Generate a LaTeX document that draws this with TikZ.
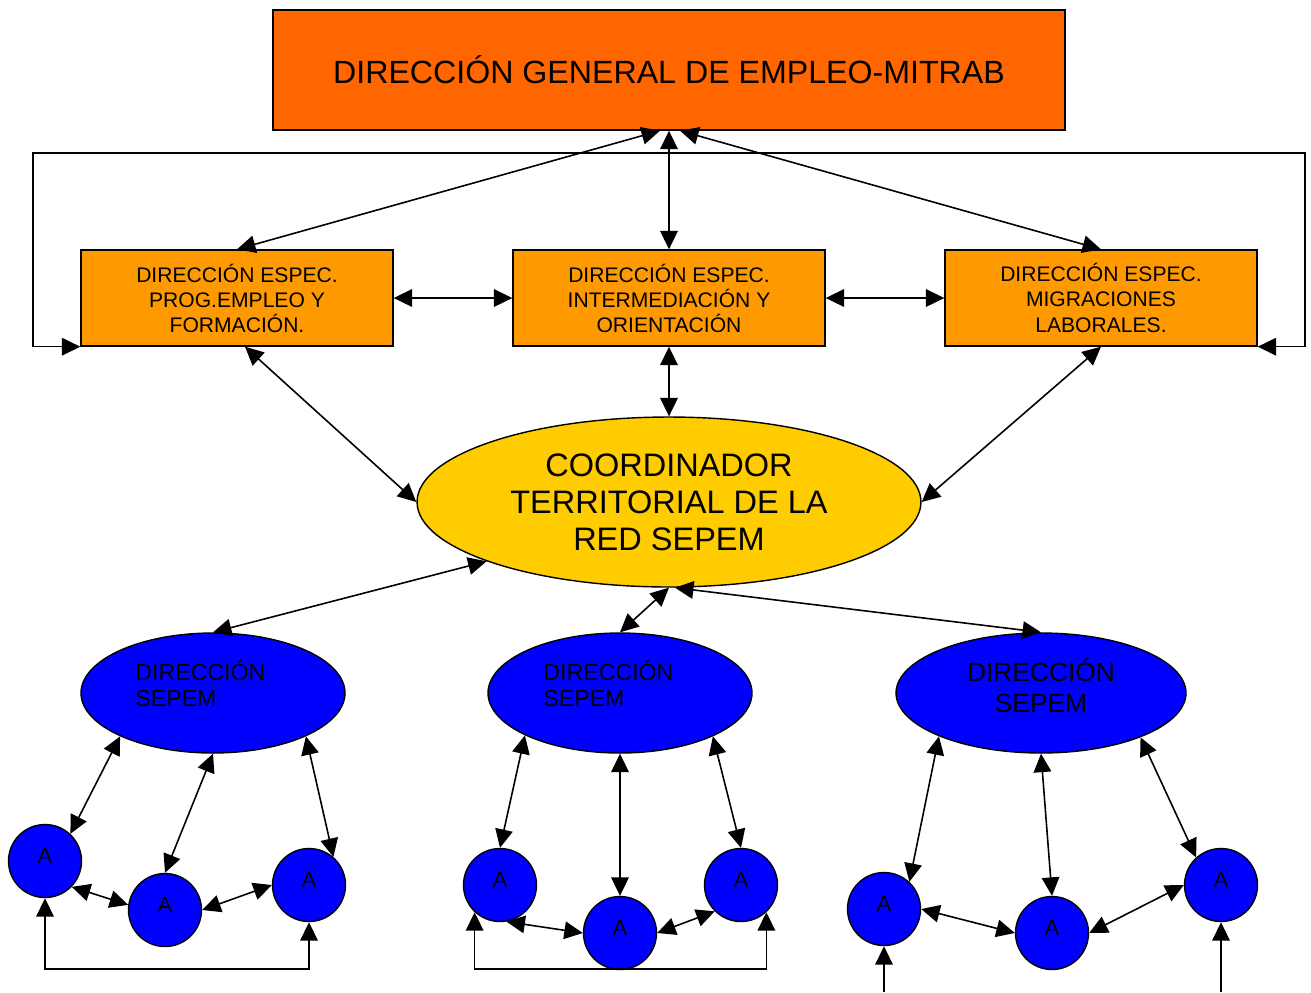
\documentclass[tikz,border=0pt]{standalone}
\usepackage{fontspec}
\setmainfont{Liberation Sans}
\usetikzlibrary{arrows.meta,calc,shapes.geometric}

\definecolor{dirgen}{HTML}{FF6600}
\definecolor{direspec}{HTML}{FF9900}
\definecolor{coordin}{HTML}{FFCC00}
\definecolor{sepemblue}{HTML}{0000FF}

\tikzset{
  gral/.style={draw, line width=0.8pt, fill=dirgen, minimum width=15.84cm, minimum height=2.4cm, inner sep=0pt, font=\fontsize{18.3}{21}\selectfont},
  espec/.style={draw, line width=0.8pt, fill=direspec, minimum width=6.24cm, minimum height=1.92cm, inner sep=0pt, align=center, font=\fontsize{12}{14.2}\selectfont},
  coordell/.style={ellipse, draw, line width=0.8pt, fill=coordin, minimum width=10.08cm, minimum height=3.4cm, inner sep=0pt, align=center, font=\fontsize{18.5}{21}\selectfont},
  sepem/.style={ellipse, draw, line width=0.8pt, fill=sepemblue, minimum height=2.4cm, inner sep=0pt},
  sepemtxt/.style={inner sep=0pt, align=left, font=\fontsize{13.2}{15}\selectfont},
  agente/.style={circle, draw, line width=0.8pt, fill=sepemblue, minimum size=1.46cm, inner sep=0pt, text depth=0.22cm, font=\fontsize{12.5}{14}\selectfont},
  flecha/.style={line width=0.9pt, {Triangle[length=10.5pt,width=10pt]}-{Triangle[length=10.5pt,width=10pt]}},
  punta/.style={line width=0.9pt, -{Triangle[length=10.5pt,width=10pt]}},
}

\begin{document}
\begin{tikzpicture}[x=0.02cm, y=-0.02cm]
		%%%%% START %%%%%
		\useasboundingbox (0,0) rectangle (1311,992);
		
		\node[gral] (gen) at (669,70) {DIRECCIÓN GENERAL DE EMPLEO-MITRAB};
		
		\node[espec] (prog) at (237,298) {DIRECCIÓN ESPEC.\\PROG.EMPLEO Y\\FORMACIÓN.};
		\node[espec] (inter) at (669,298) {DIRECCIÓN ESPEC.\\INTERMEDIACIÓN Y\\ORIENTACIÓN};
		\node[espec] (migr) at (1101,298) {DIRECCIÓN ESPEC.\\MIGRACIONES\\[1pt]LABORALES.};
		
		\node[coordell] (coord) at (669,502) {COORDINADOR\\TERRITORIAL DE LA\\RED SEPEM};
		
		\node[sepem, minimum width=5.28cm] (sepemA) at (213,693) {};
		\node[sepem, minimum width=5.28cm] (sepemB) at (620,693) {};
		\node[sepem, minimum width=5.8cm] (sepemC) at (1041,693) {};
		\node[sepemtxt, anchor=north west] (txtA) at (135,660) {DIRECCIÓN\\SEPEM};
		\node[sepemtxt, anchor=north west] (txtB) at (543,660) {DIRECCIÓN\\SEPEM};
		\node[sepemtxt, anchor=north, align=center, font=\fontsize{15}{18}\selectfont] (txtC) at (1041,658) {DIRECCIÓN\\SEPEM};
		
		\node[agente] (a1) at (45,861) {A};
		\node[agente] (a2) at (165,910) {A};
		\node[agente] (a3) at (309,885) {A};
		\node[agente] (a4) at (500,885) {A};
		\node[agente] (a5) at (620,933) {A};
		\node[agente] (a6) at (741,885) {A};
		\node[agente] (a7) at (884,909) {A};
		\node[agente] (a8) at (1052,933) {A};
		\node[agente] (a9) at (1221,885) {A};
		
		%%%%% upper arrows %%%%%
		\draw[flecha] ($(gen.south)+(-9,0)$) -- (prog.north);
		\draw[flecha] (gen.south) -- (inter.north);
		\draw[flecha] ($(gen.south)+(11,0)$) -- (migr.north);
		\draw[flecha] (prog.east) -- (inter.west);
		\draw[flecha] (inter.east) -- (migr.west);
		\draw[flecha] (inter.south) -- (coord.north);
		\draw[flecha] ($(prog.south)+(8,0)$) -- (coord.west);
		\draw[flecha] (migr.south) -- (coord.east);
		\coordinate (vueltaI) at (33,153);
		\coordinate (vueltaD) at (1305,153);
		\draw[flecha] (prog.south west) -| (vueltaI) -- (vueltaD) |- (migr.south east);
		
		\draw[flecha] (coord.198) -- (sepemA.north);
		\draw[flecha] (coord.south) -- (sepemB.north);
		\draw[flecha] ($(coord.south)+(6,0)$) -- (sepemC.north);
		
		%%%%% lower arrows %%%%%
		\coordinate (bajoA) at (0,969);
		\coordinate (bajoC) at (0,992);
		
		\draw[flecha] (sepemA.205) -- (a1.47);
		\draw[flecha] (sepemA.south) -- (a2.north);
		\draw[flecha] (sepemA.-25) -- (a3.49);
		\draw[flecha] (a1.-44) -- (a2.172);
		\draw[flecha] (a2.east) -- (a3.west);
		\draw[flecha] (a1.south) -- (a1.south |- bajoA) -| (a3.south);
		
		\draw[flecha] (sepemB.204) -- (a4.north);
		\draw[flecha] (sepemB.south) -- (a5.north);
		\draw[flecha] (sepemB.-25) -- (a6.north);
		\draw[flecha] (a4.-80) -- (a5.west);
		\draw[flecha] (a5.east) -- (a6.225);
		\draw[flecha] (a4.227) -- (a4.227 |- bajoA) -| (a6.-47);
		
		\draw[flecha] (sepemC.203) -- (a7.47);
		\draw[flecha] (sepemC.south) -- (a8.north);
		\draw[flecha] (sepemC.-24) -- (a9.132);
		\draw[flecha] (a7.east) -- (a8.west);
		\draw[flecha] (a8.east) -- (a9.west);
		\draw[punta] (a7.south |- bajoC) -- (a7.south);
		\draw[punta] (a9.south |- bajoC) -- (a9.south);
		
		%%%%% END %%%%%
\end{tikzpicture}
\end{document}
